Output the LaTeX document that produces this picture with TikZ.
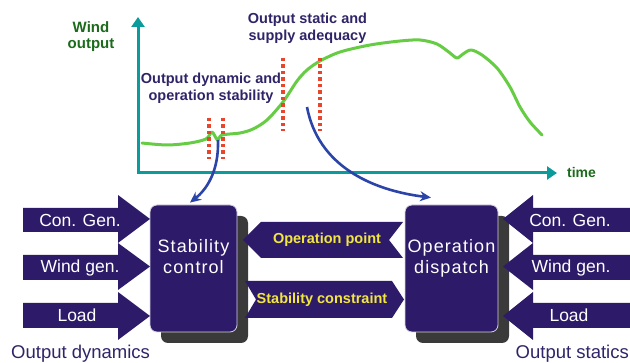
\documentclass[tikz,border=0pt]{standalone}
\usepackage{fontspec}
\setmainfont{Liberation Sans}
\usetikzlibrary{arrows.meta}
\definecolor{boxpurple}{HTML}{2D1B69}
\definecolor{labpurple}{HTML}{2F2468}
\definecolor{axisteal}{HTML}{0B9B9B}
\definecolor{curvegreen}{HTML}{66CC44}
\definecolor{labgreen}{HTML}{1B6B1B}
\definecolor{dotred}{HTML}{E8452C}
\definecolor{arrblue}{HTML}{2B44A8}
\definecolor{shadowgray}{HTML}{3A3A3A}
\definecolor{txtyellow}{HTML}{F2E640}
\tikzset{
  axis/.style={draw=axisteal, line width=3pt},
  greencurve/.style={draw=curvegreen, line width=3pt, line cap=round, line join=round},
  dotline/.style={draw=dotred, line width=3.5pt, dash pattern=on 3.5pt off 3pt},
  bluearrow/.style={draw=arrblue, line width=2.6pt, -{Stealth[length=11pt,width=10pt]}},
  axlabel/.style={text=labgreen, font=\fontsize{15}{16}\selectfont\bfseries, inner sep=0pt, align=center},
  toplabel/.style={text=labpurple, font=\fontsize{14.5}{17}\selectfont\bfseries, inner sep=0pt, align=center},
  mainbox/.style={fill=boxpurple, draw=white!80!boxpurple, line width=0.8pt, rounded corners=7pt, inner sep=0pt},
  boxtext/.style={text=white, font=\fontsize{18}{21.5}\selectfont\addfontfeatures{LetterSpace=6}, inner sep=0pt, align=center},
  flowarrow/.style={fill=boxpurple},
  flowtext/.style={text=white, font=\fontsize{17.5}{20}\selectfont, inner sep=0pt},
  yeltext/.style={text=txtyellow, font=\fontsize{14.5}{17}\selectfont\bfseries, inner sep=0pt},
  bottext/.style={text=labpurple, font=\fontsize{18.5}{22}\selectfont, inner sep=0pt}
}
\begin{document}
\begin{tikzpicture}[x=1pt,y=-1pt]
\useasboundingbox (0,0) rectangle (630,363);
% ---------- chart ----------
\coordinate (ytop) at (138,17);
\coordinate (orig) at (138,173);
\coordinate (xend) at (557,173);
\draw[axis, {Triangle[length=10pt,width=13pt]}-{Triangle[length=10pt,width=13pt]}] (ytop) |- (xend);
\node[axlabel] (wo) at (91,36.5) {Wind\\output};
\node[axlabel, font=\fontsize{14}{16}\selectfont\bfseries] (tm) at (581.5,172) {time};

\draw[greencurve] plot[smooth, tension=0.5] coordinates {
 (142,143) (167,145) (190,143) (206,139) (212,132) (217.5,140) (222,135)
 (240,133) (253,129) (267,120) (283,102) (297,81) (307,70) (320,61)
 (340,52) (370,45) (400,41) (420,40) (437,44) (450,53) (457,58)
 (463,54) (471,50) (482,55) (497,68) (510,87) (520,107) (530,122) (542,135)};

\draw[dotline] (209,118) -- (209,159);
\draw[dotline] (223,118) -- (223,159);
\draw[dotline] (283,58) -- (283,131);
\draw[dotline] (320,58) -- (320,131);

\node[toplabel] (dyn) at (211,88.7) {Output dynamic and\\operation stability};
\node[toplabel] (sta) at (307.5,28.7) {Output static and\\supply adequacy};

% ---------- blocks ----------
\fill[shadowgray, rounded corners=7pt] (161,216) rectangle (248,343);
\fill[shadowgray, rounded corners=7pt] (416,216) rectangle (509,343);
\node[mainbox, minimum width=87pt, minimum height=127pt] (sc) at (193.5,268.5) {};
\node[mainbox, minimum width=93pt, minimum height=127pt] (od) at (451.5,268.5) {};
\node[boxtext] (sct) at (193.5,256.5) {Stability\\control};
\node[boxtext] (odt) at (451.5,258.5) {Operation\\dispatch};

% left inputs
\fill[flowarrow] (23,208) -- (118,208) -- (118,195) -- (150,219) -- (118,243) -- (118,232) -- (23,232) -- cycle;
\fill[flowarrow] (23,255) -- (118,255) -- (118,243) -- (150,266.5) -- (118,290) -- (118,280) -- (23,280) -- cycle;
\fill[flowarrow] (23,303) -- (118,303) -- (118,292) -- (150,316) -- (118,340) -- (118,328) -- (23,328) -- cycle;
\node[flowtext] (lcg) at (80,220) {Con. Gen.};
\node[flowtext] (lwg) at (80,267.5) {Wind gen.};
\node[flowtext] (lld) at (77,315.5) {Load};

% right inputs
\fill[flowarrow] (632,208) -- (533,208) -- (533,195) -- (503,219) -- (533,243) -- (533,232) -- (632,232) -- cycle;
\fill[flowarrow] (632,255) -- (533,255) -- (533,243) -- (503,266.5) -- (533,290) -- (533,280) -- (632,280) -- cycle;
\fill[flowarrow] (632,303) -- (533,303) -- (533,292) -- (503,316) -- (533,340) -- (533,328) -- (632,328) -- cycle;
\node[flowtext] (rcg) at (570,220) {Con. Gen.};
\node[flowtext] (rwg) at (571,267.5) {Wind gen.};
\node[flowtext] (rld) at (569,315.5) {Load};

% middle arrows
\fill[flowarrow] (243,240) -- (261,222) -- (403,222) -- (389,240) -- (403,258) -- (261,258) -- cycle;
\fill[flowarrow] (245,281) -- (392,281) -- (404,299.5) -- (392,318) -- (245,318) -- (256,299.5) -- cycle;
\node[yeltext] (opp) at (327,240) {Operation point};
\node[yeltext] (scn) at (322,299.5) {Stability constraint};

% bottom labels
\node[bottext, anchor=base west] (odyn) at (11,358.5) {Output dynamics};
\node[bottext, anchor=base west] (osta) at (515.5,358.5) {Output statics};

% ---------- connectors ----------
\coordinate (blip) at (218,140);
\coordinate (stat) at (307,107);
\draw[bluearrow] (blip) .. controls (219,172) and (206,190) .. ([xshift=-3.5pt,yshift=2pt]sc.north);
\draw[bluearrow] (stat) .. controls (318,165) and (370,190) .. ([xshift=-20.5pt,yshift=7pt]od.north);
\end{tikzpicture}
\end{document}
